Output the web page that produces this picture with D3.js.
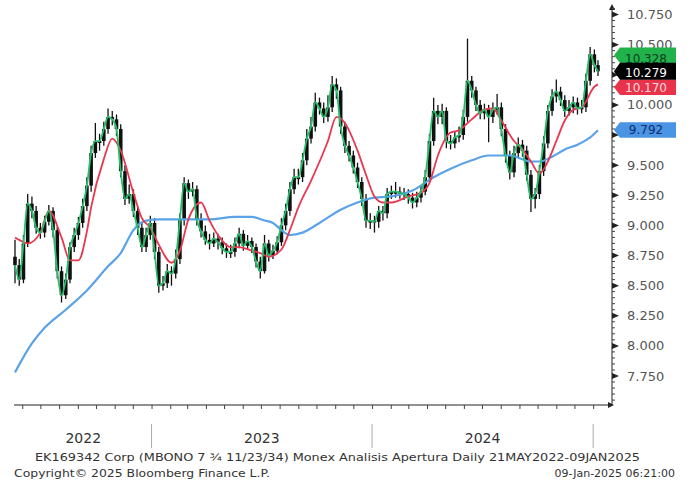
<!DOCTYPE html>
<html><head><meta charset="utf-8">
<script src="https://cdn.jsdelivr.net/npm/d3@7/dist/d3.min.js"></script>
<style>body{margin:0;background:#fff}svg{display:block}</style>
</head><body>
<svg id="chart" width="691" height="483"></svg>
<script>
// ---- data (weekly candles) ----
const firstWeek = "2022-05-20";
const lastDay = "2025-01-09";
const rangeStart = "2022-05-20";

const openW = [8.74,8.67,8.55,8.85,9.18,9.12,8.98,8.94,9.03,9.12,
8.96,8.62,8.42,8.55,8.82,8.92,9.02,9.16,9.33,9.60,
9.70,9.70,9.80,9.90,9.88,9.80,9.45,9.22,9.26,9.12,
8.98,8.82,8.92,9.02,8.78,8.50,8.52,8.62,8.60,8.72,
9.05,9.35,9.28,9.30,9.05,8.95,8.88,8.85,8.89,8.86,
8.81,8.78,8.78,8.85,8.93,8.83,8.87,8.82,8.70,8.62,
8.85,8.75,8.79,8.86,9.00,9.12,9.30,9.40,9.40,9.54,
9.72,9.82,10.02,9.97,9.90,9.98,10.17,10.12,9.82,9.66,
9.58,9.48,9.36,9.22,9.04,9.04,9.03,9.12,9.10,9.26,
9.28,9.28,9.27,9.26,9.23,9.19,9.23,9.28,9.40,9.70,
9.95,9.90,9.95,9.70,9.68,9.73,9.75,9.90,10.20,10.12,
10.00,9.93,9.96,9.90,9.96,9.98,9.80,9.58,9.44,9.60,
9.67,9.62,9.42,9.22,9.26,9.45,9.68,9.95,10.07,10.11,
10.04,9.95,9.98,10.02,9.97,9.98,10.20,10.42,10.33];

const highW = [8.88,8.72,8.92,9.26,9.24,9.16,9.02,9.08,9.17,9.15,
8.99,8.66,8.60,8.86,8.98,9.07,9.22,9.40,9.66,9.85,
9.76,9.86,9.97,9.95,9.92,9.84,9.50,9.34,9.30,9.16,
9.02,8.98,9.08,9.06,8.82,8.58,8.68,8.66,8.80,9.10,
9.40,9.38,9.36,9.33,9.10,9.00,8.93,8.94,8.93,8.90,
8.85,8.84,8.90,8.98,8.96,8.92,8.90,8.85,8.74,8.92,
8.88,8.84,8.91,9.06,9.18,9.36,9.47,9.47,9.60,9.80,
9.90,10.10,10.06,10.02,10.08,10.24,10.22,10.15,9.86,9.70,
9.62,9.52,9.40,9.26,9.10,9.08,9.16,9.16,9.31,9.33,
9.36,9.32,9.31,9.30,9.27,9.28,9.33,9.46,9.76,10.06,
10.00,10.01,9.98,9.75,9.78,9.82,9.96,10.55,10.24,10.15,
10.04,10.01,10.00,10.02,10.09,10.02,9.84,9.62,9.66,9.73,
9.71,9.66,9.46,9.31,9.50,9.74,10.00,10.13,10.21,10.15,
10.08,10.04,10.07,10.06,10.04,10.26,10.48,10.46,10.37];

const lowW = [8.52,8.50,8.52,8.82,9.06,8.93,8.89,8.90,9.00,8.90,
8.56,8.36,8.39,8.52,8.78,8.88,8.98,9.12,9.28,9.56,
9.62,9.66,9.76,9.83,9.74,9.40,9.17,9.18,9.07,8.92,
8.78,8.78,8.88,8.72,8.44,8.46,8.48,8.50,8.56,8.68,
9.00,9.22,9.24,9.00,8.90,8.84,8.80,8.82,8.80,8.76,
8.73,8.73,8.74,8.81,8.79,8.80,8.77,8.65,8.56,8.60,
8.70,8.72,8.76,8.83,8.96,9.08,9.26,9.34,9.36,9.50,
9.68,9.78,9.92,9.85,9.86,9.94,10.05,9.76,9.60,9.53,
9.43,9.31,9.16,8.98,8.97,8.94,8.98,9.04,9.06,9.22,
9.23,9.22,9.21,9.18,9.14,9.15,9.19,9.25,9.36,9.66,
9.84,9.84,9.64,9.63,9.64,9.69,9.71,9.86,10.06,9.95,
9.88,9.88,9.69,9.85,9.92,9.74,9.52,9.38,9.40,9.56,
9.57,9.37,9.11,9.14,9.22,9.41,9.64,9.91,10.02,9.99,
9.90,9.91,9.93,9.92,9.93,9.94,10.16,10.27,10.24];

const closeW = [8.67,8.55,8.85,9.18,9.12,8.98,8.94,9.03,9.12,8.96,
8.62,8.42,8.55,8.82,8.92,9.02,9.16,9.33,9.60,9.70,
9.70,9.80,9.90,9.88,9.80,9.45,9.22,9.26,9.12,8.98,
8.82,8.92,9.02,8.78,8.50,8.52,8.62,8.60,8.72,9.05,
9.35,9.28,9.30,9.05,8.95,8.88,8.85,8.89,8.86,8.81,
8.78,8.78,8.85,8.93,8.83,8.87,8.82,8.70,8.62,8.85,
8.75,8.79,8.86,9.00,9.12,9.30,9.40,9.40,9.54,9.72,
9.82,10.02,9.97,9.90,9.98,10.17,10.12,9.82,9.66,9.58,
9.48,9.36,9.22,9.04,9.04,9.03,9.12,9.10,9.26,9.28,
9.28,9.27,9.26,9.23,9.19,9.23,9.28,9.40,9.70,9.95,
9.90,9.95,9.70,9.68,9.73,9.75,9.90,10.20,10.12,10.00,
9.93,9.96,9.90,9.96,9.98,9.80,9.58,9.44,9.60,9.67,
9.62,9.42,9.22,9.26,9.45,9.68,9.95,10.07,10.11,10.04,
9.95,9.98,10.02,9.97,9.98,10.20,10.42,10.33,10.279];

// moving averages (week index, value)
const redWeek = [0,1,3,6,8,11,13,15,17,18,21,23,25,28,30,32,34,37,39,41,44,46,48,51,53,56,58,60,63,65,67,70,74,76,78,81,83,85,87,89,93,96,98,100,103,105,108,111,113,115,118,120,122,124,126,128,130,132,134,137,138];
const redVal  = [8.90,8.88,8.85,8.94,9.12,8.90,8.71,8.71,8.95,9.15,9.55,9.72,9.62,9.27,9.06,8.98,8.84,8.69,8.79,9.05,9.19,9.04,8.92,8.82,8.82,8.79,8.77,8.74,8.80,8.96,9.15,9.37,9.70,9.90,9.85,9.62,9.42,9.24,9.19,9.19,9.24,9.27,9.35,9.58,9.77,9.79,9.88,9.96,9.97,9.87,9.70,9.63,9.53,9.43,9.53,9.70,9.87,9.96,9.98,10.15,10.17];

const blueWeek = [0,4,7,12,17,22,25,28,31,34,40,46,52,56,59,61,63,65,68,72,77,81,85,89,94,99,103,108,112,117,122,124,127,130,133,136,138];
const blueVal  = [7.78,8.02,8.15,8.30,8.46,8.66,8.77,8.96,9.04,9.05,9.05,9.05,9.07,9.07,9.04,9.02,8.96,8.92,8.94,9.02,9.13,9.19,9.23,9.24,9.29,9.40,9.47,9.54,9.58,9.58,9.53,9.53,9.57,9.63,9.67,9.73,9.79];

const yTickVals = [7.75,8.0,8.25,8.5,8.75,9.0,9.25,9.5,9.75,10.0,10.25,10.5,10.75];
const yTickShown = [7.75,8.0,8.25,8.5,8.75,9.0,9.25,9.5,10.0,10.5,10.75];
const yearNames = ["2022","2023","2024"];

const lastNames = ["green","last","red","blue"];
const lastVals  = [10.328,10.279,10.170,9.792];
const lastTexts = ["10.328","10.279","10.170","9.792"];

const footer1 = "EK169342 Corp (MBONO 7 \u00BE 11/23/34) Monex Analisis Apertura  Daily 21MAY2022-09JAN2025";
const footer2 = "Copyright\u00A9 2025 Bloomberg Finance L.P.";
const footer3 = "09-Jan-2025 06:21:00";

// ---- drawing ----
const svg = d3.select("#chart");
const parse = d3.utcParse("%Y-%m-%d");
const t0 = parse(rangeStart), tEnd = parse(lastDay), w0 = parse(firstWeek);
const nW = closeW.length;
const weekDate = i => (i >= nW - 1 ? tEnd : d3.utcDay.offset(w0, 7 * i));

const x = d3.scaleUtc().domain([t0, tEnd]).range([15, 598]);
const y = d3.scaleLinear().domain([7.75, 10.75]).range([376, 14.5]);
const FONT = "DejaVu Sans, Verdana, sans-serif";

const candles = d3.range(nW).map(i => ({d: weekDate(i), o: openW[i], h: highW[i], l: lowW[i], c: closeW[i]}));

svg.append("clipPath").attr("id","clip").append("rect").attr("x",12).attr("y",4).attr("width",600).attr("height",400);
const plot = svg.append("g").attr("clip-path","url(#clip)");

// candles
const cg = plot.append("g");
cg.selectAll("line.wick").data(candles).join("line")
  .attr("x1", d => x(d.d)).attr("x2", d => x(d.d))
  .attr("y1", d => y(d.h)).attr("y2", d => y(d.l))
  .attr("stroke", "#111").attr("stroke-width", 1.3);
cg.selectAll("rect.body").data(candles).join("rect")
  .attr("x", d => x(d.d) - 1.8).attr("width", 3.6)
  .attr("y", d => y(Math.max(d.o, d.c)))
  .attr("height", d => Math.max(2, Math.abs(y(d.o) - y(d.c))))
  .attr("fill", "#111");

const maLine = d3.line().x(d => x(d[0])).y(d => y(d[1])).curve(d3.curveMonotoneX);
const blueData = blueWeek.map((w, i) => [weekDate(w), blueVal[i]]);
const redData = redWeek.map((w, i) => [weekDate(w), redVal[i]]);
plot.append("path").attr("d", maLine(blueData)).attr("fill","none").attr("stroke","#5ba3e8").attr("stroke-width",2.2);
plot.append("path").attr("d", maLine(redData)).attr("fill","none").attr("stroke","#e8384f").attr("stroke-width",1.8);
const greenLine = d3.line().x(d => x(d.d)).y(d => y(d.c)).curve(d3.curveMonotoneX);
plot.append("path").attr("d", greenLine(candles)).attr("fill","none").attr("stroke","#25c06a").attr("stroke-width",1.8);

// x axis
const xAxisY = 405;
svg.append("line").attr("x1",14).attr("x2",612).attr("y1",xAxisY).attr("y2",xAxisY).attr("stroke","#222").attr("stroke-width",1);
svg.append("path").attr("d",`M608,${xAxisY-3}L614,${xAxisY}L608,${xAxisY+3}Z`).attr("fill","#222");
const xa = d3.axisBottom(x).ticks(d3.utcMonth.every(1)).tickSize(4).tickFormat("");
const xg = svg.append("g").attr("transform",`translate(0,${xAxisY})`).call(xa);
xg.select(".domain").remove();
xg.selectAll(".tick line").attr("stroke","#444");

const yearStarts = yearNames.map(n => parse(n + "-01-01"));
const yearEnds = yearNames.map(n => parse((+n + 1) + "-01-01"));
const seps = yearStarts.slice(1).concat([yearEnds[yearEnds.length-1]]);
svg.selectAll("line.sep").data(seps).join("line")
  .attr("x1", d => x(d)).attr("x2", d => x(d)).attr("y1", 424).attr("y2", 448)
  .attr("stroke","#aaa").attr("stroke-width",1);
svg.selectAll("text.year").data(yearNames).join("text")
  .attr("x", (n, i) => (x(yearStarts[i] < t0 ? t0 : yearStarts[i]) + x(yearEnds[i])) / 2)
  .attr("y", 443).attr("text-anchor","middle")
  .attr("font-family", FONT).attr("font-size", 14).attr("fill","#333").text(n => n);

// y axis
const yAxisX = 612;
svg.append("line").attr("x1",yAxisX).attr("x2",yAxisX).attr("y1",6).attr("y2",xAxisY).attr("stroke","#222");
svg.append("path").attr("d",`M${yAxisX-3},10L${yAxisX},4L${yAxisX+3},10Z`).attr("fill","#222");
const minor = d3.range(7.55, 10.82, 0.05);
svg.selectAll("line.minor").data(minor).join("line")
  .attr("x1", yAxisX).attr("x2", yAxisX + 3).attr("y1", d => y(d)).attr("y2", d => y(d))
  .attr("stroke","#444").attr("stroke-width",1);
svg.selectAll("path.maj").data(yTickVals).join("path")
  .attr("d", d => `M${yAxisX},${y(d)-3}L${yAxisX+7},${y(d)}L${yAxisX},${y(d)+3}Z`).attr("fill","#222");
svg.selectAll("text.ylab").data(yTickShown).join("text")
  .attr("x", 627).attr("y", d => y(d) + 4.5)
  .attr("font-family", FONT).attr("font-size", 13).attr("fill","#555")
  .text(d => d3.format(".3f")(d));

// last-value boxes
const boxH = 15.5;
const boxColor = {green:"#22b24c", last:"#000", red:"#e8334a", blue:"#4a94e4"};
const textColor = {green:"#0b3d1c", last:"#fff", red:"#ffd9de", blue:"#0c2c70"};
const textDy = {green:8.2, last:6.1, red:4.7, blue:4.5};
const boxes = lastNames.map((n, i) => ({n, v: lastVals[i], t: lastTexts[i], yc: y(lastVals[i])}));
const anchor = boxes.find(b => b.n === "last");
boxes.forEach(b => {
  if (b === anchor) return;
  if (Math.abs(b.yc - anchor.yc) < boxH + 0.5) b.yc = anchor.yc + (b.yc < anchor.yc ? -1 : 1) * (boxH + 0.5);
});
const order = ["green","red","blue","last"];
order.forEach(n => {
  const b = boxes.find(q => q.n === n);
  const h = n === "last" ? 17 : boxH;
  const top = b.yc - h/2, bot = b.yc + h/2;
  svg.append("path").attr("d", `M${yAxisX+2},${b.yc}L${yAxisX+8},${top}L676,${top}L676,${bot}L${yAxisX+8},${bot}Z`).attr("fill", boxColor[n]);
  svg.append("text").attr("x", 646).attr("y", b.yc + textDy[n]).attr("text-anchor","middle")
    .attr("font-family", FONT).attr("font-size", 12).attr("fill", textColor[n]).text(b.t);
});

// footer
svg.append("text").attr("x", 35).attr("y", 461).attr("font-family", FONT).attr("font-size", 11).attr("fill","#333")
  .attr("textLength", 605).attr("lengthAdjust","spacingAndGlyphs").text(footer1);
svg.append("text").attr("x", 14).attr("y", 477).attr("font-family", FONT).attr("font-size", 11).attr("fill","#333")
  .attr("textLength", 256).attr("lengthAdjust","spacingAndGlyphs").text(footer2);
svg.append("text").attr("x", 675).attr("y", 477).attr("text-anchor","end").attr("font-family", FONT).attr("font-size", 11).attr("fill","#333").text(footer3);
</script>
</body></html>
